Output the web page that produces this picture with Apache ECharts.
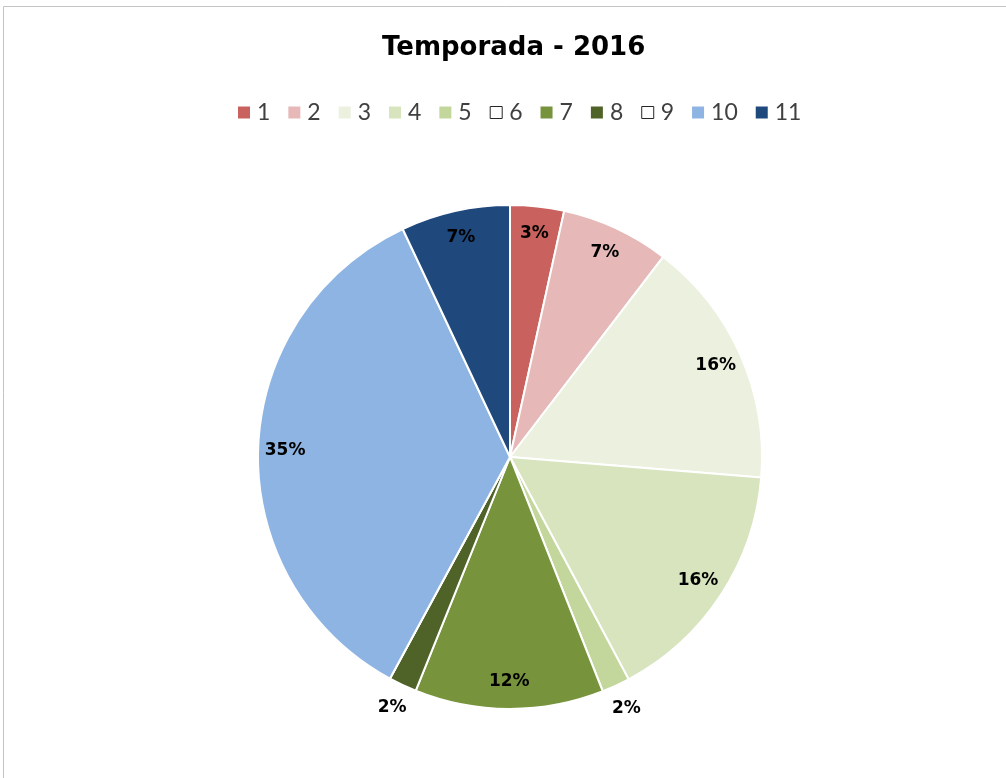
<!DOCTYPE html>
<html>
<head>
<meta charset="utf-8">
<script src="https://cdn.jsdelivr.net/npm/echarts@6/dist/echarts.min.js"></script>
<style>
html,body{margin:0;padding:0;background:#fff;}
#chart{width:1006px;height:778px;}
</style>
</head>
<body>
<div id="chart"></div>
<script>
var categories=['1','2','3','4','5','6','7','8','9','10','11'];
var values=[3.45,6.95,15.9,15.9,1.8,0,12.1,1.8,0,35.1,7.0];
var labels=['3%','7%','16%','16%','2%','','12%','2%','','35%','7%'];
var colors=['#C9625E','#E6B9B8','#EBF1DE','#D7E4BD','#C3D69B','#ffffff','#77933C','#4F6228','#ffffff','#8EB4E3','#1F497D'];
// small slices get their label outside the pie
var outsideIdx=[4,7];

var chart=echarts.init(document.getElementById('chart'));

var mainData=[],innerLab=[],outerLab=[],legendData=[];
for(var i=0;i<categories.length;i++){
	mainData.push({name:categories[i],value:values[i],itemStyle:{color:colors[i]}});
	var isOut=outsideIdx.indexOf(i)!=-1;
	innerLab.push({name:categories[i],value:values[i],label:{show:!isOut&&labels[i]!=''}});
	outerLab.push({name:categories[i],value:values[i],label:{show:isOut}});
	if(colors[i]=='#ffffff'){
		legendData.push({name:categories[i],itemStyle:{color:'#ffffff',borderColor:'#262626',borderWidth:1}});
	}else{
		legendData.push({name:categories[i],itemStyle:{color:colors[i],borderWidth:0}});
	}
}

var labelStyle=function(){
	return {
		position:'inside',
		fontFamily:'DejaVu Sans',
		fontWeight:'bold',
		fontSize:17,
		color:'#000',
		formatter:function(p){return labels[p.dataIndex];}
	};
};

var option={
	animation:false,
	title:{
		text:'Temporada - 2016',
		left:377,
		top:30,
		textStyle:{fontFamily:'DejaVu Sans',fontWeight:'bold',fontSize:26,color:'#000'}
	},
	legend:{
		data:legendData,
		top:96,
		left:233,
		icon:'rect',
		itemWidth:12,
		itemHeight:12,
		itemGap:18,
		selectedMode:false,
		textStyle:{fontFamily:'Lato',fontSize:23,color:'#404040',padding:[0,0,0,2]}
	},
	graphic:[{
		type:'rect',
		shape:{x:3.5,y:6.5,width:1010,height:790},
		style:{fill:null,stroke:'#c4c4c4',lineWidth:1},
		silent:true
	}],
	series:[
		{
			type:'pie',
			center:[510,457],
			radius:[0,252],
			startAngle:90,
			clockwise:true,
			minAngle:0,
			avoidLabelOverlap:false,
			itemStyle:{borderColor:'#ffffff',borderWidth:2},
			label:{show:false},
			labelLine:{show:false},
			emphasis:{disabled:true},
			data:mainData
		},
		{
			type:'pie',
			center:[510,457],
			radius:[202,242],
			startAngle:90,
			silent:true,
			avoidLabelOverlap:false,
			itemStyle:{color:'transparent',borderWidth:0},
			label:labelStyle(),
			labelLine:{show:false},
			emphasis:{disabled:true},
			data:innerLab
		},
		{
			type:'pie',
			center:[510,457],
			radius:[262,286],
			startAngle:90,
			silent:true,
			avoidLabelOverlap:false,
			itemStyle:{color:'transparent',borderWidth:0},
			label:labelStyle(),
			labelLine:{show:false},
			emphasis:{disabled:true},
			data:outerLab
		}
	]
};
chart.setOption(option);
</script>
</body>
</html>
